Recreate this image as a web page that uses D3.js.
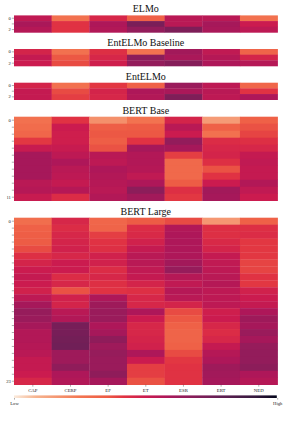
<!DOCTYPE html>
<html><head><meta charset="utf-8">
<script src="https://cdn.jsdelivr.net/npm/d3@7/dist/d3.min.js"></script>
<style>html,body{margin:0;padding:0;background:#fff}svg{display:block}text{font-family:"Liberation Serif",serif}</style>
</head><body><svg id="c" width="288" height="432"></svg>
<script>
const columns = ["CAP","CERP","EF","ET","ESR","ERT","NED"];
const elmo = [
 [.53,.27,.46,.33,.55,.55,.27],
 [.59,.42,.58,.72,.55,.60,.50],
 [.56,.42,.57,.65,.71,.59,.54]];
const entBaseline = [
 [.47,.27,.43,.26,.61,.53,.32],
 [.52,.36,.46,.67,.59,.56,.47],
 [.50,.38,.49,.65,.69,.58,.56]];
const entElmo = [
 [.47,.27,.41,.33,.63,.54,.31],
 [.52,.38,.47,.58,.59,.55,.42],
 [.52,.40,.46,.57,.71,.54,.58]];
const bertBase = [
 [.27,.42,.18,.26,.47,.15,.33],
 [.29,.50,.34,.35,.55,.33,.37],
 [.31,.49,.36,.36,.50,.27,.39],
 [.41,.49,.34,.42,.65,.44,.43],
 [.51,.51,.37,.60,.60,.46,.46],
 [.60,.54,.55,.57,.40,.47,.52],
 [.60,.58,.54,.57,.30,.43,.53],
 [.60,.55,.58,.56,.30,.37,.52],
 [.60,.54,.57,.53,.30,.42,.52],
 [.55,.52,.56,.58,.35,.50,.57],
 [.56,.56,.55,.67,.43,.61,.53],
 [.51,.44,.57,.61,.41,.60,.50]];
const bertLarge = [
 [.28,.46,.31,.35,.38,.16,.33],
 [.33,.44,.32,.44,.57,.43,.43],
 [.34,.46,.40,.45,.58,.43,.44],
 [.35,.47,.42,.48,.58,.45,.41],
 [.38,.48,.43,.52,.58,.47,.41],
 [.43,.46,.48,.55,.58,.52,.41],
 [.47,.50,.48,.55,.61,.53,.39],
 [.50,.50,.44,.53,.64,.54,.39],
 [.52,.44,.46,.52,.56,.55,.42],
 [.50,.46,.43,.47,.53,.56,.41],
 [.48,.37,.42,.43,.56,.54,.48],
 [.54,.48,.58,.46,.55,.54,.50],
 [.60,.47,.62,.46,.47,.54,.52],
 [.64,.55,.63,.58,.38,.49,.58],
 [.63,.57,.63,.50,.36,.50,.62],
 [.60,.73,.58,.46,.33,.46,.60],
 [.57,.73,.60,.46,.32,.44,.63],
 [.57,.74,.66,.47,.32,.46,.60],
 [.56,.75,.62,.48,.33,.52,.64],
 [.55,.62,.64,.58,.38,.56,.65],
 [.52,.62,.63,.50,.41,.58,.65],
 [.52,.66,.63,.40,.42,.62,.67],
 [.50,.58,.66,.40,.42,.61,.58],
 [.46,.57,.60,.37,.42,.60,.56]];
const colorStops = ["#faebdd","#f6b48f","#f37651","#ed5a44","#e13342","#cb1b4f","#ad1759","#951c5b","#701f57","#611f53","#35193e","#03051a"];
const stopDomain = [0,1/12,3/12,5/14,5/12,1/2,7/12,9/14,9/12,11/14,11/12,1];
const panelNames = ["ELMo","EntELMo Baseline","EntELMo","BERT Base","BERT Large"];
const panelData = [elmo,entBaseline,entElmo,bertBase,bertLarge];
const panelTops = [15.4,49,82.7,116.7,217.7];
const panelBottoms = [32.4,66,99.7,200.7,384.7];

const color = d3.scaleLinear().domain(stopDomain).range(colorStops).interpolate(d3.interpolateRgb).clamp(true);
const svg = d3.select("#c");
const left = 14, right = 277.6;
const x = d3.scaleBand().domain(columns).range([left,right]);

panelData.forEach((rows,p)=>{
  const idx = d3.range(rows.length);
  const y = d3.scaleBand().domain(idx).range([panelTops[p],panelBottoms[p]]);
  const g = svg.append("g");
  rows.forEach((row,r)=>{
    g.selectAll(null).data(row).join("rect")
      .attr("x",(d,i)=>x(columns[i])).attr("y",y(r))
      .attr("width",x.bandwidth()+.3).attr("height",y.bandwidth()+.3)
      .attr("fill",d=>color(d));
  });
  const last = rows.length-1;
  const ax = d3.axisLeft(y).tickSize(2.2).tickPadding(1).tickFormat(d=>(d===0||d===last)?d:"");
  const ag = svg.append("g").attr("transform",`translate(${left},0)`).call(ax);
  ag.select(".domain").remove();
  ag.selectAll("line").attr("stroke","#333").attr("stroke-width",.4);
  ag.selectAll("text").attr("font-size",4.6).attr("fill","#222");
  svg.append("text").attr("x",(left+right)/2).attr("y",panelTops[p]-3.2)
    .attr("text-anchor","middle").attr("font-size",10).attr("fill","#111").text(panelNames[p]);
});

const xAxis = d3.axisBottom(x).tickSize(2).tickPadding(1.6);
const xg = svg.append("g").attr("transform",`translate(0,${panelBottoms[4]})`).call(xAxis);
xg.select(".domain").remove();
xg.selectAll("line").attr("stroke","#333").attr("stroke-width",.4);
xg.selectAll("text").attr("font-size",4.8).attr("fill","#222");

const defs = svg.append("defs");
const grad = defs.append("linearGradient").attr("id","cb");
stopDomain.forEach((d,i)=>grad.append("stop").attr("offset",d).attr("stop-color",colorStops[i]));
svg.append("rect").attr("x",left).attr("y",395.4).attr("width",right-left-.8).attr("height",2.6).attr("fill","url(#cb)");
const legendScale = d3.scalePoint().domain(["Low","High"]).range([left,right-.4]);
const lg = svg.append("g").attr("transform","translate(0,398)").call(d3.axisBottom(legendScale).tickSize(1.6).tickPadding(2.2));
lg.select(".domain").remove();
lg.selectAll("line").attr("stroke","#333").attr("stroke-width",.4);
lg.selectAll("text").attr("font-size",4.6).attr("fill","#222");
</script></body></html>
